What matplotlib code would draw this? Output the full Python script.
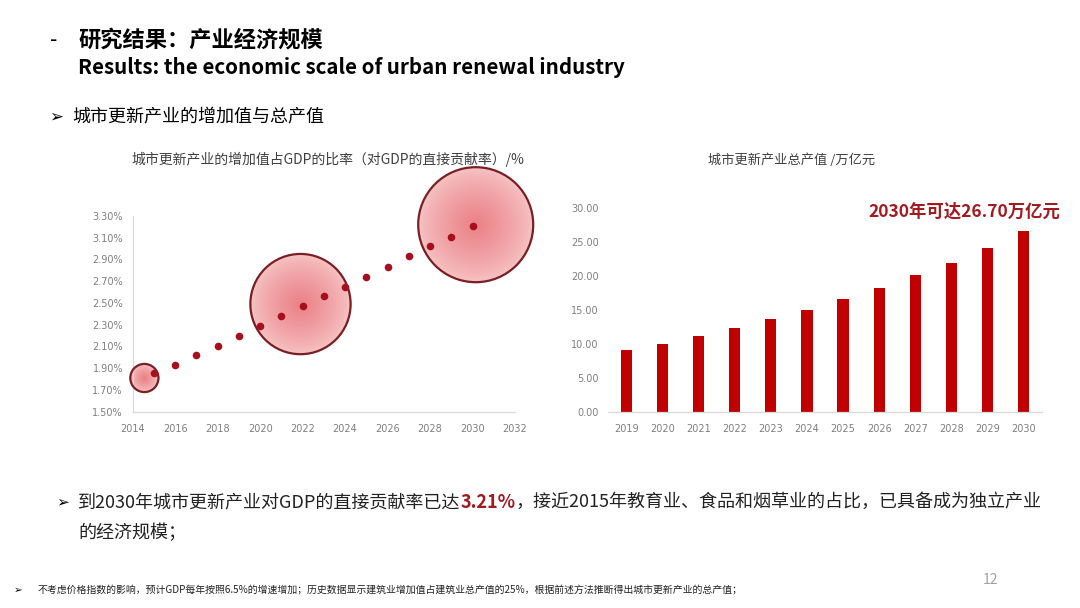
import matplotlib
matplotlib.use("Agg")
import matplotlib.pyplot as plt
import numpy as np
from matplotlib.colors import to_rgb

plt.rcParams['font.family'] = ['Noto Sans CJK SC', 'DejaVu Sans']

# ---------------- data ----------------
rate_years = [2015, 2016, 2017, 2018, 2019, 2020, 2021, 2022, 2023, 2024, 2025, 2026, 2027, 2028, 2029, 2030]
rate_values = [1.86, 1.93, 2.02, 2.10, 2.20, 2.29, 2.38, 2.47, 2.56, 2.65, 2.74, 2.83, 2.93, 3.02, 3.11, 3.21]
bubble_x = [2014.55, 2021.9, 2030.15]
bubble_y = [1.81, 2.49, 3.22]
bubble_size = [0.06, 0.76, 1.0]   # relative bubble area
rate_xticks = [2014, 2016, 2018, 2020, 2022, 2024, 2026, 2028, 2030, 2032]
rate_yticks = [1.50, 1.70, 1.90, 2.10, 2.30, 2.50, 2.70, 2.90, 3.10, 3.30]

output_years = ['2019', '2020', '2021', '2022', '2023', '2024', '2025', '2026', '2027', '2028', '2029', '2030']
output_values = [9.05, 10.0, 11.2, 12.3, 13.6, 15.0, 16.6, 18.2, 20.1, 22.0, 24.2, 26.7]
output_yticks = [0, 5, 10, 15, 20, 25, 30]

W, H = 1080, 608
fig = plt.figure(figsize=(W / 100, H / 100), dpi=100)
fig.patch.set_facecolor('white')

def fx(px):
    return px / W

def fy(py):
    return 1 - py / H

tick_color = '#7f7f7f'
spine_color = '#d9d9d9'

# ---------------- left chart ----------------
ax1 = fig.add_axes([fx(132.7), fy(411.7), fx(515) - fx(132.7), fy(216) - fy(411.7)])
ax1.set_xlim(2014, 2032)
ax1.set_ylim(1.5, 3.3)
ax1.set_xticks(rate_xticks)
ax1.set_yticks(rate_yticks)
ax1.set_yticklabels([f'{v:.2f}%' for v in rate_yticks])
for s in ['top', 'right']:
    ax1.spines[s].set_visible(False)
for s in ['left', 'bottom']:
    ax1.spines[s].set_color(spine_color)
    ax1.spines[s].set_linewidth(0.9)
ax1.tick_params(length=0, labelsize=7, labelcolor=tick_color, pad=7)
ax1.tick_params(axis='x', pad=9)
for lab in ax1.get_xticklabels() + ax1.get_yticklabels():
    lab.set_family('DejaVu Sans')

# bubbles with radial gradient
max_d_pt = 115 * 0.72
edge_c = np.array(to_rgb('#f6c3c4'))
center_c = np.array(to_rgb('#ea8086'))
n_layers = 40
for bx, by, bs in zip(bubble_x, bubble_y, bubble_size):
    d = max_d_pt * np.sqrt(bs)
    for i in range(n_layers):
        k = 1 - i / n_layers
        t = (1 - k) ** 0.8
        c = edge_c + (center_c - edge_c) * t
        ax1.scatter([bx], [by], s=(d * k) ** 2, color=c, edgecolors='none',
                    zorder=2, clip_on=False)
    ax1.scatter([bx], [by], s=d ** 2, facecolors='none', edgecolors='#7a1f24',
                linewidths=1.6, zorder=3, clip_on=False)

ax1.scatter(rate_years, rate_values, s=20, color='#a80f1c', zorder=4, clip_on=False)

fig.text(fx(328), fy(159), '城市更新产业的增加值占GDP的比率（对GDP的直接贡献率）/%',
         ha='center', va='center', fontsize=10, color='#404040')

# ---------------- right chart ----------------
ax2 = fig.add_axes([fx(608.3), fy(411.7), fx(1041.7) - fx(608.3), fy(208.3) - fy(411.7)])
xpos = np.arange(len(output_years))
ax2.bar(xpos, output_values, width=0.31, color='#c00000', zorder=2)
ax2.set_xlim(-0.5, len(output_years) - 0.5)
ax2.set_ylim(0, 30)
ax2.set_xticks(xpos)
ax2.set_xticklabels(output_years)
ax2.set_yticks(output_yticks)
ax2.set_yticklabels([f'{v:.2f}' for v in output_yticks])
for s in ['top', 'right', 'left']:
    ax2.spines[s].set_visible(False)
ax2.spines['bottom'].set_color(spine_color)
ax2.spines['bottom'].set_linewidth(0.9)
ax2.tick_params(length=0, labelsize=7, labelcolor=tick_color, pad=7)
ax2.tick_params(axis='x', pad=9)
for lab in ax2.get_xticklabels() + ax2.get_yticklabels():
    lab.set_family('DejaVu Sans')

fig.text(fx(791.7), fy(160), '城市更新产业总产值 /万亿元', ha='center', va='center',
         fontsize=9.5, color='#404040')
fig.text(fx(868), fy(211.7), f'2030年可达{output_values[-1]:.2f}万亿元', ha='left', va='center',
         fontsize=12.5, fontweight='bold', color='#a3191f')

# ---------------- slide texts ----------------
fig.text(fx(50), fy(40), '-', ha='left', va='center', fontsize=15, color='black')
fig.text(fx(78), fy(40), '研究结果：产业经济规模', ha='left', va='center', fontsize=16,
         fontweight='bold', color='black')
fig.text(fx(78), fy(67), 'Results: the economic scale of urban renewal industry', ha='left',
         va='center', fontsize=14.8, fontweight='bold', color='black')
fig.text(fx(49), fy(117), '➢', ha='left', va='center', fontsize=12,
         family=['DejaVu Sans'], color='black')
fig.text(fx(72), fy(117), '城市更新产业的增加值与总产值', ha='left', va='center', fontsize=13,
         color='black')

renderer = fig.canvas.get_renderer()

def pieces(x_px, y_px, parts, size):
    x = x_px
    for txt, color, weight in parts:
        t = fig.text(fx(x), fy(y_px), txt, ha='left', va='center', fontsize=size,
                     color=color, fontweight=weight)
        bb = t.get_window_extent(renderer=renderer)
        x += bb.width

fig.text(fx(56), fy(502), '➢', ha='left', va='center', fontsize=11,
         family=['DejaVu Sans'], color='black')
pieces(78, 502, [('到2030年城市更新产业对GDP的直接贡献率已达', '#222222', 'normal'),
                 ('3.21%', '#a3191f', 'bold'),
                 ('，接近2015年教育业、食品和烟草业的占比，已具备成为独立产业', '#222222', 'normal')], 13)
fig.text(fx(78), fy(533), '的经济规模；', ha='left', va='center', fontsize=13, color='#222222')

fig.text(fx(14), fy(590), '➢', ha='left', va='center', fontsize=7.5,
         family=['DejaVu Sans'], color='black')
fig.text(fx(38), fy(590), '不考虑价格指数的影响，预计GDP每年按照6.5%的增速增加；历史数据显示建筑业增加值占建筑业总产值的25%，根据前述方法推断得出城市更新产业的总产值；',
         ha='left', va='center', fontsize=7.15, color='#222222')
fig.text(fx(990), fy(580), '12', ha='center', va='center', fontsize=10, color='#a0a0a0')

fig.savefig('out.png', dpi=100, facecolor='white')
